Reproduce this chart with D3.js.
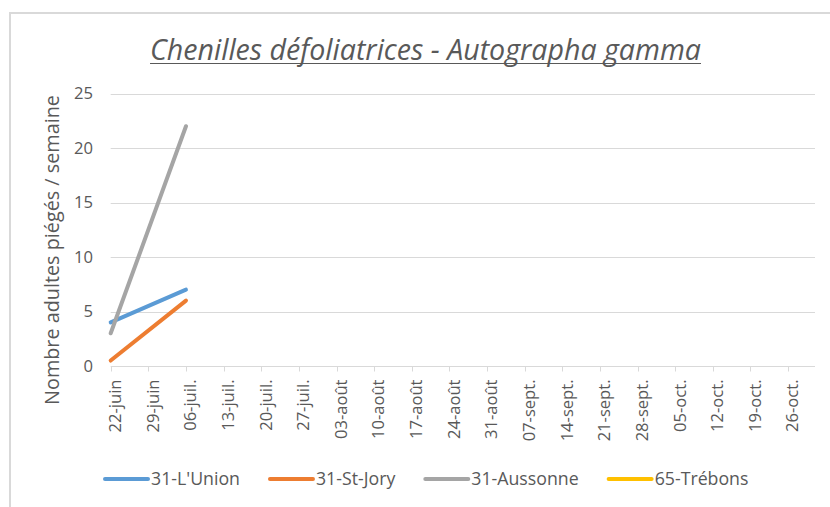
<!DOCTYPE html>
<html><head><meta charset="utf-8">
<script src="https://cdn.jsdelivr.net/npm/d3@7"></script>
<style>body{margin:0;background:#fff}svg{display:block}text{font-family:"Open Sans",sans-serif;fill:#595959}</style>
</head><body>
<svg id="c" width="830" height="507"></svg>
<script>
const title = "Chenilles défoliatrices - Autographa gamma";
const yTitle = "Nombre adultes piégés / semaine";
const tickDates = ["2020-06-22","2020-06-29","2020-07-06","2020-07-13","2020-07-20","2020-07-27","2020-08-03","2020-08-10","2020-08-17","2020-08-24","2020-08-31","2020-09-07","2020-09-14","2020-09-21","2020-09-28","2020-10-05","2020-10-12","2020-10-19","2020-10-26"];
const tickLabels = ["22-juin","29-juin","06-juil.","13-juil.","20-juil.","27-juil.","03-août","10-août","17-août","24-août","31-août","07-sept.","14-sept.","21-sept.","28-sept.","05-oct.","12-oct.","19-oct.","26-oct."];
const axisEnd = "2020-10-31";
const yTicks = [0,5,10,15,20,25];
const seriesNames = ["31-L'Union","31-St-Jory","31-Aussonne","65-Trébons"];
const seriesColors = ["#5b9bd5","#ed7d31","#a5a5a5","#ffc000"];
const obsDates = ["2020-06-22","2020-07-06"];
const unionVals = [4,7];
const stJoryVals = [0.5,6];
const aussonneVals = [3,22];
const trebonsVals = [null,null];

const parse = d3.timeParse("%Y-%m-%d");
const svg = d3.select("#c");

function fitSize(str, target, base, extra){
  const t = svg.append("text").attr("font-size",base).text(str);
  if(extra) extra(t);
  const w = t.node().getComputedTextLength();
  t.remove();
  return base*target/w;
}
const tickFs = fitSize("22-juin", 53, 16);
const legFs = fitSize("31-L'Union", 89, 16);
const yFs = fitSize("25", 19, 16);

svg.append("rect").attr("x",10).attr("y",13).attr("width",840).attr("height",520)
  .attr("fill","none").attr("stroke","#d9d9d9").attr("stroke-width",2);

const x = d3.scaleTime().domain([parse(tickDates[0]), parse(axisEnd)]).range([110.7, 815]);
const y = d3.scaleLinear().domain([0,25]).range([366, 93.5]);

svg.append("g").selectAll("line").data(yTicks.filter(d=>d>0)).join("line")
  .attr("x1",x.range()[0]).attr("x2",x.range()[1])
  .attr("y1",d=>Math.round(y(d))+0.5).attr("y2",d=>Math.round(y(d))+0.5)
  .attr("stroke","#d9d9d9").attr("stroke-width",1);

svg.append("g").selectAll("text").data(yTicks).join("text")
  .attr("x",93).attr("y",d=>y(d)).attr("dy","0.35em").attr("text-anchor","end")
  .attr("font-size",yFs).text(d=>d);

const xa = svg.append("g").attr("transform",`translate(0,${Math.round(y(0))+0.5})`);
xa.append("line").attr("x1",x.range()[0]).attr("x2",x.range()[1]).attr("stroke","#d9d9d9");
xa.selectAll("line.t").data(tickDates).join("line").attr("class","t")
  .attr("x1",d=>Math.round(x(parse(d)))+0.5).attr("x2",d=>Math.round(x(parse(d)))+0.5)
  .attr("y1",0).attr("y2",5).attr("stroke","#d9d9d9");
xa.selectAll("text").data(tickDates).join("text")
  .attr("transform",d=>`translate(${x(parse(d))+4.5},13) rotate(-90)`)
  .attr("text-anchor","end").attr("dy","0.35em").attr("font-size",tickFs)
  .text((d,i)=>tickLabels[i]);

const series = [unionVals, stJoryVals, aussonneVals, trebonsVals];
const line = d3.line().x(d=>x(d.date)).y(d=>y(d.v));
series.forEach((vals,i)=>{
  const pts = obsDates.map((d,j)=>({date:parse(d), v:vals[j]})).filter(p=>p.v!=null);
  if(pts.length<1) return;
  svg.append("path").datum(pts).attr("d",line).attr("fill","none")
    .attr("stroke",seriesColors[i]).attr("stroke-width",4).attr("stroke-linecap","round")
    .attr("stroke-linejoin","round");
});

const tt = svg.append("text").attr("x",425.5).attr("y",60).attr("text-anchor","middle")
  .attr("font-style","italic").attr("font-size",22).text(title);
const tw = tt.node().getComputedTextLength();
tt.attr("font-size", 22*551/tw);
const tw2 = tt.node().getComputedTextLength();
svg.append("line").attr("x1",425.5-tw2/2).attr("x2",425.5+tw2/2).attr("y1",63.5).attr("y2",63.5)
  .attr("stroke","#595959").attr("stroke-width",1.2);

const yt = svg.append("text").attr("transform","translate(52,250) rotate(-90)")
  .attr("text-anchor","middle").attr("dy","0.35em").attr("font-size",16).text(yTitle);
const yw = yt.node().getComputedTextLength();
yt.attr("font-size",16*310/yw);

let lx = 103;
seriesNames.forEach((n,i)=>{
  svg.append("line").attr("x1",lx+2).attr("x2",lx+45).attr("y1",479).attr("y2",479)
    .attr("stroke",seriesColors[i]).attr("stroke-width",4).attr("stroke-linecap","round");
  const t = svg.append("text").attr("x",lx+48).attr("y",479).attr("dy","0.35em")
    .attr("font-size",legFs).text(n);
  lx += 48 + t.node().getComputedTextLength() + 28;
});
</script>
</body></html>
